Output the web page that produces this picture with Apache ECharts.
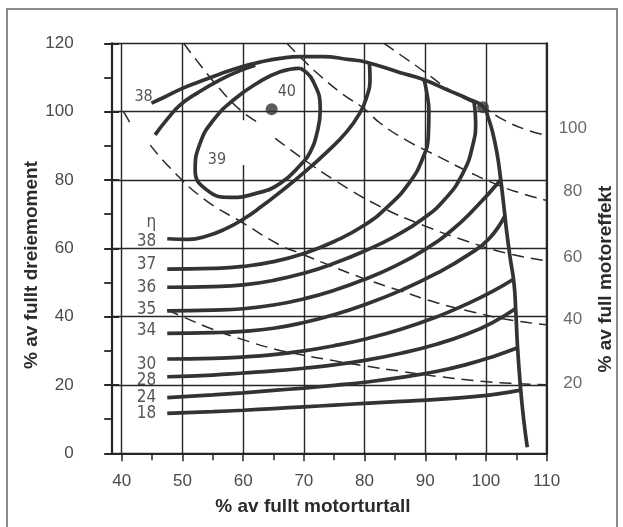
<!DOCTYPE html>
<html><head><meta charset="utf-8">
<script src="https://cdn.jsdelivr.net/npm/echarts@6/dist/echarts.min.js"></script>
<style>html,body{margin:0;padding:0;background:#fff}#c{width:623px;height:527px}</style>
</head><body><div id="c"></div>
<script>
// ---- data (speed %, torque %) ----
const xTicks = [40, 50, 60, 70, 80, 90, 100, 110];
const yTicks = [0, 20, 40, 60, 80, 100, 120];

const fullLoad = [[44.9,102.5],[47,104.2],[50,106.8],[53,108.9],[56,110.9],[59.5,113],[63,114.6],[66.1,115.6],[69.4,116.1],[73,116.1],[77.6,115.2],[80,114.6],[85.9,111.4],[89.7,109.4],[94.1,106],[97,103.8],[99.6,101.4],[100.4,98],[101,94.6],[101.8,88],[102.4,80.5],[102.9,73],[103.4,65],[104,57],[104.6,50],[104.9,42],[105.2,31],[105.7,19],[106.2,10],[106.8,1.8]];
const eta39 = [[69.4,112.7],[71.5,109],[72.7,100.5],[72.2,94],[71,88],[69.7,84.9],[66.1,79.0],[62,76],[57.9,74.9],[54.0,77.1],[52.1,82.9],[52.9,90.7],[55.1,97.5],[58.4,103.4],[62.3,108.3],[66.1,111.7],[69.4,112.7]];
const eta38a = [[45.5,93.2],[47.5,97.8],[49.6,101.9],[52.5,105.5],[56.2,109.3],[59.5,112],[62,113.6]];
const eta38 = [[80.8,114.5],[80.9,109],[80.3,104],[79.2,99.5],[77,94],[74,88.5],[70.5,82.9],[66,76.3],[63,72.2],[60,68.5],[57,65.6],[54,63.6],[51,62.6],[47.5,62.8]];
const eta37 = [[47.5,53.9],[55,54.1],[60,54.7],[65,56.1],[70,58.5],[75,62],[80,66.8],[84,72.5],[87.3,79],[89.5,86],[90.5,93],[90.6,100],[90.2,106],[89.8,109.3]];
const eta36 = [[47.5,48.6],[55,48.8],[60,49.3],[65,50.6],[70,52.7],[75,55.6],[80,59.2],[85,63.5],[89.5,68.5],[93.3,74.5],[96.2,82],[97.8,90],[98.3,97],[98,103.2]];
const eta35 = [[47.5,41.7],[55,41.9],[60,42.3],[65,43.4],[70,45.2],[75,47.7],[80,50.9],[85,54.8],[90,59.7],[94.5,65.5],[98.5,72.3],[102.4,80]];
const eta34 = [[47.5,35.1],[55,35.3],[60,35.7],[65,36.6],[70,38.3],[75,40.6],[80,43.5],[86,47.7],[92,52.8],[97,58],[100.5,62.8],[103.2,69.8]];
const eta30 = [[47.5,27.6],[55,27.8],[60,28.2],[65,28.9],[70,30],[75,31.5],[80,33.4],[86,36.3],[92,40],[97,43.8],[101,47.3],[104.6,51]];
const eta28 = [[47.5,22.4],[55,22.9],[60,23.5],[65,24.1],[70,24.9],[75,25.9],[80,27.2],[86,29.3],[92,32],[97,35],[101,38.2],[104.9,42.4]];
const eta24 = [[47.5,16.3],[55,17.1],[60,17.7],[65,18.4],[70,19.1],[75,19.9],[80,20.8],[86,22.2],[92,24],[97,26.1],[101,28.2],[105.1,30.8]];
const eta18 = [[47.5,11.7],[55,12.2],[60,12.6],[65,13.1],[70,13.6],[75,14.1],[80,14.6],[86,15.2],[92,15.8],[98,16.6],[102,17.4],[105.7,18.5]];

const power100 = [[83.2,120],[86,116.5],[90,111.5],[93,107.5],[96,104.2],[99.6,101.2],[103,97.5],[107,94.5],[110.9,92.7]];
const power80 = [[67.2,120],[69.9,115.1],[73,110],[76.5,105],[79.8,101],[82.6,96.6],[87,91.5],[92,87],[97,82.5],[102,78.5],[106,76],[110.9,73.6]];
const power60 = [[50.2,120],[53,113.5],[56,107],[59.5,100.5],[62.3,97],[63.8,'-'],[65.3,92.2],[70,86],[75,80],[82.6,72.2],[90,66.5],[97,62],[104,58.3],[110.9,56.1]];
const power40 = [[40.3,100],[41.6,96],[43,'-'],[44.7,90.2],[48,83.5],[53.5,74.5],[60.1,67.3],[66,61],[69.4,58.5],[74.3,55],[79.8,51.2],[86,47.5],[92,44],[98,41.3],[104,39],[110.9,37.5]];
const power20 = [[47.5,42],[50,40],[55,36.3],[60.1,33.2],[65,30.6],[70,28.7],[74.3,27.3],[80,25.6],[86,24],[92,22.5],[98,21.3],[104,20.5],[110.9,20]];

// interrupted stretch of the 60 % speed grid line
const gridGap60 = [[60,84.4],[60,97.5]];

const etaNames = ['η','38','37','36','35','34','30','28','24','18'];
const etaNameY = [67.5,61.9,55.3,48.6,42.1,35.8,26.0,21.2,16.4,11.7];
const innerNames = ['38','39','40'];
const innerNamePos = [[43.6,104.4],[55.7,86.0],[67.2,105.8]];
const powerNames = ['100','80','60','40','20'];
const powerNameY = [95.1,76.6,57.5,39.2,20.5];
const optimum = [[64.7,100.7]];
const rated = [[99.5,101.3]];

// ---- styles ----
const INK = '#333';
const NUM_FONT = '"Liberation Sans", Arial, sans-serif';
const LBL_FONT = '"DejaVu Sans Condensed", "Liberation Sans", sans-serif';

function contour(d) {
  return {type:'line', xAxisIndex:2, yAxisIndex:2, data:d, smooth:0.5, showSymbol:false, symbol:'none',
    lineStyle:{color:INK, width:3.7}, z:4, silent:true, clip:false};
}
function dashed(d) {
  return {type:'line', xAxisIndex:2, yAxisIndex:2, data:d, smooth:0.5, showSymbol:false, symbol:'none',
    lineStyle:{color:'#2a2a2a', width:1.5, type:[12,7]}, z:3, silent:true, clip:false, connectNulls:false};
}
function textSeries(items, size, align, color, font, weight) {
  return {type:'scatter', xAxisIndex:2, yAxisIndex:2, symbolSize:0, silent:true, clip:false, z:6,
    data: items,
    label:{show:true, position:'inside', formatter:'{b}', align:align, verticalAlign:'middle',
      fontSize:size, color:color, fontFamily:font, fontWeight:weight || 'normal'}};
}

const chart = echarts.init(document.getElementById('c'), null, {renderer:'canvas'});
const gridPos = {top:43.3, bottom:73.7, right:76.3};
const GRID = '#262626';

chart.setOption({
  animation:false,
  backgroundColor:'#fff',
  grid:[
    Object.assign({left:111.7}, gridPos),
    Object.assign({left:121.7}, gridPos)
  ],
  xAxis:[
    {gridIndex:0, type:'value', min:0, max:1, position:'bottom',
      axisLine:{show:true, lineStyle:{color:GRID, width:2.2}}, axisTick:{show:false}, axisLabel:{show:false}, splitLine:{show:false}},
    {gridIndex:0, type:'value', min:0, max:1, position:'top',
      axisLine:{show:true, lineStyle:{color:GRID, width:2.2}}, axisTick:{show:false}, axisLabel:{show:false}, splitLine:{show:false}},
    {gridIndex:1, type:'value', min:xTicks[0], max:xTicks[xTicks.length-1], interval:10, position:'bottom',
      axisLine:{show:false},
      axisTick:{show:true, length:8, lineStyle:{color:GRID, width:1.5}},
      minorTick:{show:true, splitNumber:2, length:7, lineStyle:{color:GRID, width:1.5}},
      axisLabel:{show:true, margin:20, fontSize:17, color:'#4a4a4a', fontFamily:NUM_FONT},
      splitLine:{show:true, lineStyle:{color:GRID, width:1.4}}}
  ],
  yAxis:[
    {gridIndex:0, type:'value', min:yTicks[0], max:yTicks[yTicks.length-1], interval:20, position:'left', offset:19,
      axisLine:{show:true, lineStyle:{color:GRID, width:2.2}},
      axisTick:{show:true, length:7.5, lineStyle:{color:GRID, width:2}},
      minorTick:{show:true, splitNumber:2, length:7.5, lineStyle:{color:GRID, width:1.8}},
      axisLabel:{show:true, margin:19, fontSize:17, color:'#4a4a4a', fontFamily:NUM_FONT},
      splitLine:{show:true, lineStyle:{color:GRID, width:1.3}}},
    {gridIndex:0, type:'value', min:yTicks[0], max:yTicks[yTicks.length-1], interval:20, position:'left', offset:19,
      axisLine:{show:false},
      axisTick:{show:true, inside:true, length:7.5, lineStyle:{color:GRID, width:2}},
      axisLabel:{show:false}, splitLine:{show:false}},
    {gridIndex:1, type:'value', min:yTicks[0], max:yTicks[yTicks.length-1], position:'right',
      axisLine:{show:true, lineStyle:{color:GRID, width:2.2}}, axisTick:{show:false}, axisLabel:{show:false}, splitLine:{show:false}}
  ],
  graphic:[
    {type:'rect', z:-10, shape:{x:7, y:9, width:610, height:530}, style:{fill:'none', stroke:'#666', lineWidth:1.5}},
    {type:'text', x:313, y:506.7, style:{text:'% av fullt motorturtall', font:'bold 19px "Liberation Sans", Arial, sans-serif', fill:'#2b2b2b', align:'center', verticalAlign:'middle'}},
    {type:'text', x:31.7, y:265, rotation:Math.PI/2, style:{text:'% av fullt dreiemoment', font:'bold 19px "Liberation Sans", Arial, sans-serif', fill:'#2b2b2b', align:'center', verticalAlign:'middle'}},
    {type:'text', x:606, y:279, rotation:Math.PI/2, style:{text:'% av full motoreffekt', font:'bold 19px "Liberation Sans", Arial, sans-serif', fill:'#2b2b2b', align:'center', verticalAlign:'middle'}}
  ],
  series:[
    {type:'line', xAxisIndex:2, yAxisIndex:2, data:gridGap60, showSymbol:false, symbol:'none',
      lineStyle:{color:'#fff', width:4}, z:1, silent:true},
    dashed(power100), dashed(power80), dashed(power60), dashed(power40), dashed(power20),
    contour(fullLoad), contour(eta39), contour(eta38a), contour(eta38), contour(eta37), contour(eta36),
    contour(eta35), contour(eta34), contour(eta30), contour(eta28), contour(eta24), contour(eta18),
    {type:'scatter', xAxisIndex:2, yAxisIndex:2, data:optimum.concat(rated), symbol:'circle', symbolSize:12,
      itemStyle:{color:INK}, z:5, silent:true},
    textSeries(etaNames.map((n,i)=>({name:n, value:[45.7, etaNameY[i]]})), 17, 'right', '#2b2b2b', LBL_FONT),
    textSeries(innerNames.map((n,i)=>({name:n, value:innerNamePos[i]})), 16, 'center', '#2b2b2b', LBL_FONT),
    textSeries(powerNames.map((n,i)=>({name:n, value:[114.3, powerNameY[i]]})), 17, 'center', '#444', NUM_FONT)
  ]
});
</script></body></html>
